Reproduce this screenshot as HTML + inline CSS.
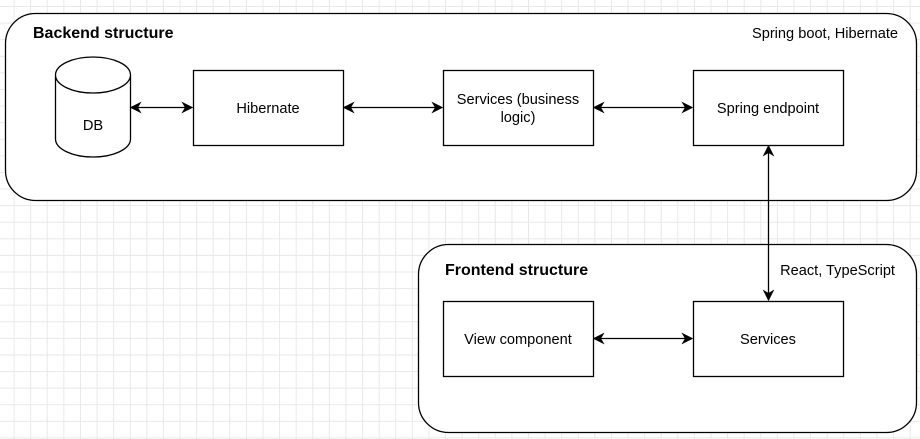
<!DOCTYPE html>
<html><head><style>
body{margin:0;width:920px;height:439px;overflow:hidden;background:#fff;
background-image:linear-gradient(#e8e8e8 1px,transparent 1px),linear-gradient(90deg,#e8e8e8 1px,transparent 1px);
background-size:16.6px 16.6px;background-position:-3px 6px}
</style></head><body>
<svg width="920" height="439" style="position:absolute;left:0;top:0" font-family="Liberation Sans, sans-serif" font-size="14.6">
<defs><marker id="a" viewBox="0 0 10 10" refX="9" refY="5" markerWidth="9" markerHeight="9" orient="auto-start-reverse"><path d="M0,0 L10,5 L0,10 L3,5z" fill="#000"/></marker></defs>
<rect x="5.5" y="13.5" width="911" height="187" rx="30" fill="#fff" stroke="#000" stroke-width="1.3"/>
<rect x="418.5" y="244.5" width="498" height="188" rx="30" fill="#fff" stroke="#000" stroke-width="1.3"/>
<text x="33" y="38" font-weight="bold" font-size="16">Backend structure</text>
<text x="898" y="38" text-anchor="end">Spring boot, Hibernate</text>
<text x="445" y="275" font-weight="bold" font-size="16">Frontend structure</text>
<text x="895" y="275" text-anchor="end">React, TypeScript</text>
<path d="M55.5,75 L55.5,139 A37.5,18 0 0 0 130.5,139 L130.5,75 A37.5,18 0 0 0 55.5,75 A37.5,18 0 0 0 130.5,75" fill="#fff" stroke="#000" stroke-width="1.3"/>
<text x="93" y="130" text-anchor="middle">DB</text>
<g fill="#fff" stroke="#000" stroke-width="1.3">
<rect x="193.5" y="70.5" width="150" height="75"/>
<rect x="443.5" y="70.5" width="150" height="75"/>
<rect x="693.5" y="70.5" width="150" height="75"/>
<rect x="443.5" y="301.5" width="150" height="75"/>
<rect x="693.5" y="301.5" width="150" height="75"/>
</g>
<g text-anchor="middle">
<text x="268" y="113">Hibernate</text>
<text x="518" y="104">Services (business</text>
<text x="518" y="122">logic)</text>
<text x="768" y="113">Spring endpoint</text>
<text x="518" y="344">View component</text>
<text x="768" y="344">Services</text>
</g>
<g stroke="#000" stroke-width="1.3" marker-start="url(#a)" marker-end="url(#a)">
<line x1="131" y1="107.5" x2="192" y2="107.5"/>
<line x1="344" y1="107.5" x2="442" y2="107.5"/>
<line x1="594" y1="107.5" x2="692" y2="107.5"/>
<line x1="594" y1="338.5" x2="692" y2="338.5"/>
<line x1="768.5" y1="146" x2="768.5" y2="300"/>
</g>
</svg>
</body></html>
